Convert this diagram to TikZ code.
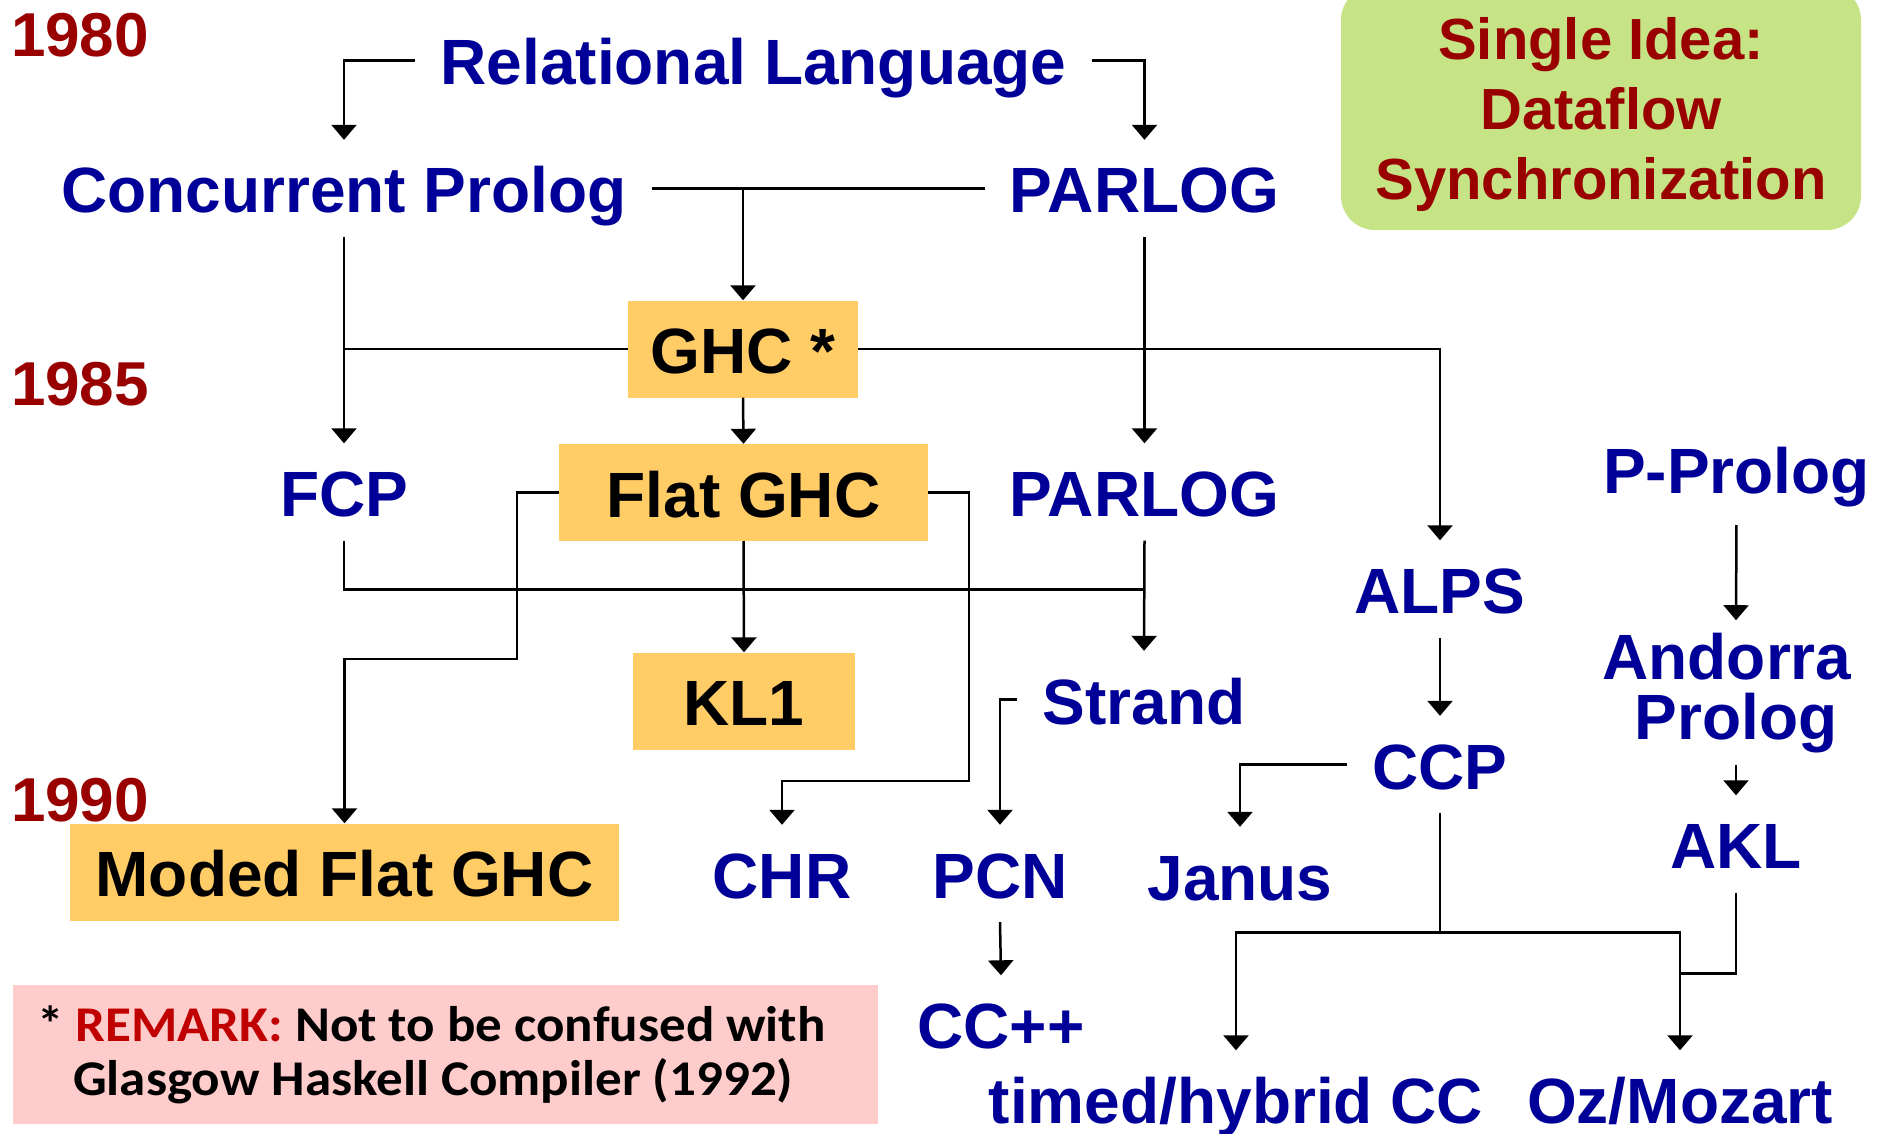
\documentclass[tikz,border=0pt]{standalone}
\usepackage{fontspec}
\setmainfont{Liberation Sans}
\newfontfamily\calfont[FakeStretch=1.06]{Carlito}
\usetikzlibrary{arrows.meta}
\definecolor{navy}{HTML}{000099}
\definecolor{yearred}{HTML}{990000}
\definecolor{boxfill}{HTML}{FFCC66}
\definecolor{ideagreen}{HTML}{C6E485}
\definecolor{remarkpink}{HTML}{FFCCCC}
\definecolor{remarkred}{HTML}{C00000}
\begin{document}
\begin{tikzpicture}[x=1pt,y=-1pt,
  bigfont/.style={font=\fontsize{64}{60}\selectfont\bfseries},
  lang/.style={bigfont, text=navy, text height=62pt, text depth=13pt, inner ysep=11pt, inner xsep=25pt},
  boxlang/.style={lang, text=black, fill=boxfill, inner xsep=0pt},
  twoline/.style={bigfont, text=navy, align=center, inner sep=0pt},
  year/.style={font=\fontsize{62}{62}\selectfont\bfseries, text=yearred, anchor=base, inner sep=0pt},
  idea/.style={font=\fontsize{58}{70}\selectfont\bfseries, text=yearred, align=center, inner sep=0pt},
  remark/.style={font=\fontsize{50}{52}\selectfont\calfont\bfseries, anchor=base west, inner sep=0pt},
  conn/.style={line width=2.5pt},
  arr/.style={conn, -{Triangle[width=25pt,length=15pt]}},
]
\useasboundingbox (0,0) rectangle (1877,1134);

% background panels
\fill[ideagreen, rounded corners=34pt] (1341,-14) rectangle (1861,230);
\fill[remarkpink] (13,985) rectangle (878,1124);

% years
\node[year] (y1980) at (80,57) {1980};
\node[year] (y1985) at (80,405) {1985};
\node[year] (y1990) at (80,821) {1990};

% idea text
\node[idea] (ideatext) at (1601,115) {Single Idea:\\Dataflow\\Synchronization};

% remark text
\node[remark] (rem1) at (37,1041.7) {*\ \textcolor{remarkred}{REMARK:} Not to be confused with};
\node[remark] (rem2) at (73,1095) {Glasgow Haskell Compiler (1992)};

% language nodes
\node[lang] (rl) at (753.5,60.5) {Relational Language};
\node[lang] (cp) at (344,188.5) {Concurrent Prolog};
\node[lang] (p1) at (1144.5,188.5) {PARLOG};
\node[boxlang, minimum width=230pt] (ghc) at (743,349) {GHC *};
\node[lang] (fcp) at (344,492) {FCP};
\node[boxlang, minimum width=369pt] (fghc) at (743.5,492.5) {Flat GHC};
\node[lang] (p2) at (1144.5,492) {PARLOG};
\node[lang] (pp) at (1736.5,468.5) {P-Prolog};
\node[lang] (alps) at (1440,589) {ALPS};
\node[lang] (strand) at (1144,699.5) {Strand};
\node[boxlang, minimum width=222pt] (kl1) at (744,701) {KL1};
\node[lang] (ccp) at (1440,764.5) {CCP};
\node[twoline, minimum height=144.6pt] (andorra) at (1736,692.7) {Andorra\hspace*{18pt}\\Prolog};
\node[lang] (akl) at (1736,844) {AKL};
\node[lang] (chr) at (782,873.5) {CHR};
\node[lang] (pcn) at (1000,873.5) {PCN};
\node[lang] (janus) at (1240,875.5) {Janus};
\node[boxlang, minimum width=549pt] (mfghc) at (344.5,872) {Moded Flat GHC};
\node[lang] (ccpp) at (1001,1024) {CC++};
\node[lang] (timed) at (1236,1099) {timed/hybrid CC};
\node[lang] (oz) at (1680,1099) {Oz/Mozart};

% bend points
\coordinate (mfbend) at (517,659);
\coordinate (chrbend) at (969,781);
\coordinate (fcpjoin) at (1144.5,589.4);
\coordinate (ccpsplit) at (1440,932.3);
\coordinate (akljoin) at (1680,973.3);

% connectors
\draw[arr] (rl.west) -| (cp.north);
\draw[arr] (rl.east) -| (p1.north);
\draw[conn] (cp.east) -- (p1.west);
\draw[arr] (cp.east -| ghc.north) -- (ghc.north);
\draw[arr] (cp.south) -- (fcp.north);
\draw[conn] (ghc.west) -- (ghc.west -| cp.south);
\draw[arr] (ghc.east) -| (alps.north);
\draw[arr] (ghc.south) -- (fghc.north);
\draw[arr] (p1.south) -- (p2.north);
\draw[arr] (fghc.west) -| (mfbend) -| (mfghc.north);
\draw[arr] (fghc.south) -- (kl1.north);
\draw[arr] (fghc.east) -| (chrbend) -| (chr.north);
\draw[conn] (fcp.south) |- (fcpjoin);
\draw[arr] (p2.south) -- (strand.north);
\draw[arr] (strand.west) -| (pcn.north);
\draw[arr] (pcn.south) -- (ccpp.north);
\draw[arr] (alps.south) -- (ccp.north);
\draw[arr] (ccp.west) -| (janus.north);
\draw[conn] (ccp.south) -- (ccpsplit);
\draw[arr] (ccpsplit) -| (timed.north);
\draw[arr] (ccpsplit) -| (oz.north);
\draw[arr, shorten <=8pt] (pp.south) -- (andorra.north);
\draw[arr] (andorra.south) -- (akl.north);
\draw[conn] (akl.south) |- (akljoin);
\end{tikzpicture}
\end{document}
